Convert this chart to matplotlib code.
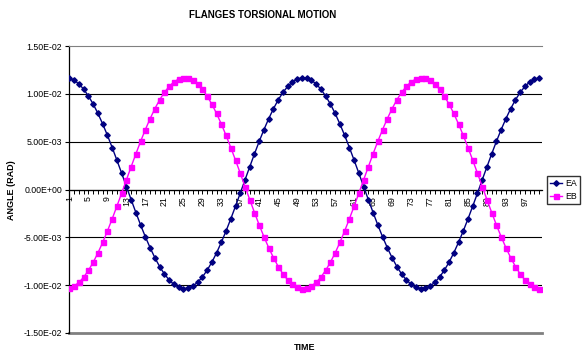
import numpy as np
import matplotlib
matplotlib.use("Agg")
import matplotlib.pyplot as plt

# angle readings, units of 1E-03 rad, samples 1..100
ea = [11.63, 11.41, 11.03, 10.48, 9.77, 8.93, 7.95, 6.85, 5.66, 4.39,
      3.06, 1.70, 0.31, -1.06, -2.41, -3.72, -4.95, -6.09, -7.13, -8.05,
      -8.83, -9.45, -9.92, -10.22, -10.35, -10.31, -10.09, -9.71, -9.16, -8.45,
      -7.61, -6.63, -5.53, -4.34, -3.07, -1.74, -0.38, 1.01, 2.38, 3.73,
      5.04, 6.27, 7.41, 8.45, 9.37, 10.15, 10.77, 11.24, 11.54, 11.68,
      11.63, 11.41, 11.03, 10.48, 9.77, 8.93, 7.95, 6.85, 5.66, 4.39,
      3.06, 1.70, 0.31, -1.06, -2.41, -3.72, -4.95, -6.09, -7.13, -8.05,
      -8.83, -9.45, -9.92, -10.22, -10.35, -10.31, -10.09, -9.71, -9.16, -8.45,
      -7.61, -6.63, -5.53, -4.34, -3.07, -1.74, -0.38, 1.01, 2.38, 3.73,
      5.04, 6.27, 7.41, 8.45, 9.37, 10.15, 10.77, 11.24, 11.54, 11.68]
eb = [-10.31, -10.09, -9.71, -9.16, -8.45, -7.61, -6.63, -5.53, -4.34, -3.07,
      -1.74, -0.38, 1.01, 2.38, 3.73, 5.04, 6.27, 7.41, 8.45, 9.37,
      10.15, 10.77, 11.24, 11.54, 11.67, 11.63, 11.41, 11.03, 10.48, 9.77,
      8.93, 7.95, 6.85, 5.66, 4.39, 3.06, 1.70, 0.31, -1.06, -2.41,
      -3.72, -4.95, -6.09, -7.13, -8.05, -8.83, -9.45, -9.92, -10.22, -10.36,
      -10.31, -10.09, -9.71, -9.16, -8.45, -7.61, -6.63, -5.53, -4.34, -3.07,
      -1.74, -0.38, 1.01, 2.38, 3.73, 5.04, 6.27, 7.41, 8.45, 9.37,
      10.15, 10.77, 11.24, 11.54, 11.67, 11.63, 11.41, 11.03, 10.48, 9.77,
      8.93, 7.95, 6.85, 5.66, 4.39, 3.06, 1.70, 0.31, -1.06, -2.41,
      -3.72, -4.95, -6.09, -7.13, -8.05, -8.83, -9.45, -9.92, -10.22, -10.36]
time = np.arange(1, len(ea) + 1)
y_ticks = [-1.5e-2, -1.0e-2, -5.0e-3, 0.0, 5.0e-3, 1.0e-2, 1.5e-2]
x_labels = list(range(1, 101, 4))

plt.rcParams['font.family'] = ['Liberation Sans', 'DejaVu Sans']

fig = plt.figure(figsize=(5.82, 3.53), dpi=100)
ax = fig.add_axes([69 / 582, 1 - 333 / 353, 473 / 582, 287 / 353])

ax.plot(time, np.array(ea) * 1e-3, color='#000080', lw=1.0, marker='D', ms=2.8,
        label='EA', zorder=3)
ax.plot(time, np.array(eb) * 1e-3, color='#FF00FF', lw=1.0, marker='s', ms=3.6,
        label='EB', zorder=3)

# spine move resets ticks, so do it first
ax.spines['bottom'].set_position(('data', 0))
ax.spines['bottom'].set_linewidth(0.9)
ax.spines['right'].set_visible(False)
ax.spines['top'].set_color('#808080')
ax.spines['left'].set_linewidth(0.9)

ax.set_ylim(-0.015, 0.015)
ax.set_xlim(0.9, 100.6)
ax.set_yticks(y_ticks)
ax.set_yticklabels([f"{v:.2E}" for v in y_ticks], fontsize=6.3)
ax.set_xticks(time, minor=True)
ax.set_xticks(x_labels)
ax.set_xticklabels([str(v) for v in x_labels], rotation=90, fontsize=6.3)
ax.tick_params(axis='x', which='both', length=3, width=0.7, pad=1.5)
ax.tick_params(axis='y', length=3, width=0.8, pad=2)

for v in y_ticks[1:-1]:
    ax.axhline(v, color='black', lw=0.8, zorder=1)
ax.axhline(-0.015, color='#808080', lw=2.0, clip_on=False, zorder=1)

fig.text(263 / 582, 1 - 15 / 353, "FLANGES TORSIONAL MOTION", fontsize=7,
         fontweight='bold', ha='center', va='center')
fig.text(12 / 582, 1 - 190 / 353, "ANGLE (RAD)", fontsize=6.5, fontweight='bold',
         rotation=90, ha='center', va='center')
fig.text(305 / 582, 1 - 347 / 353, "TIME", fontsize=6.5, fontweight='bold',
         ha='center', va='center')

fig.legend(loc='upper left', bbox_to_anchor=(547 / 582, 1 - 176 / 353),
           fontsize=6.3, frameon=True, fancybox=False, edgecolor='black',
           handlelength=1.4, borderpad=0.35, labelspacing=0.5,
           handletextpad=0.3, borderaxespad=0)

fig.savefig("out.png", dpi=100)
